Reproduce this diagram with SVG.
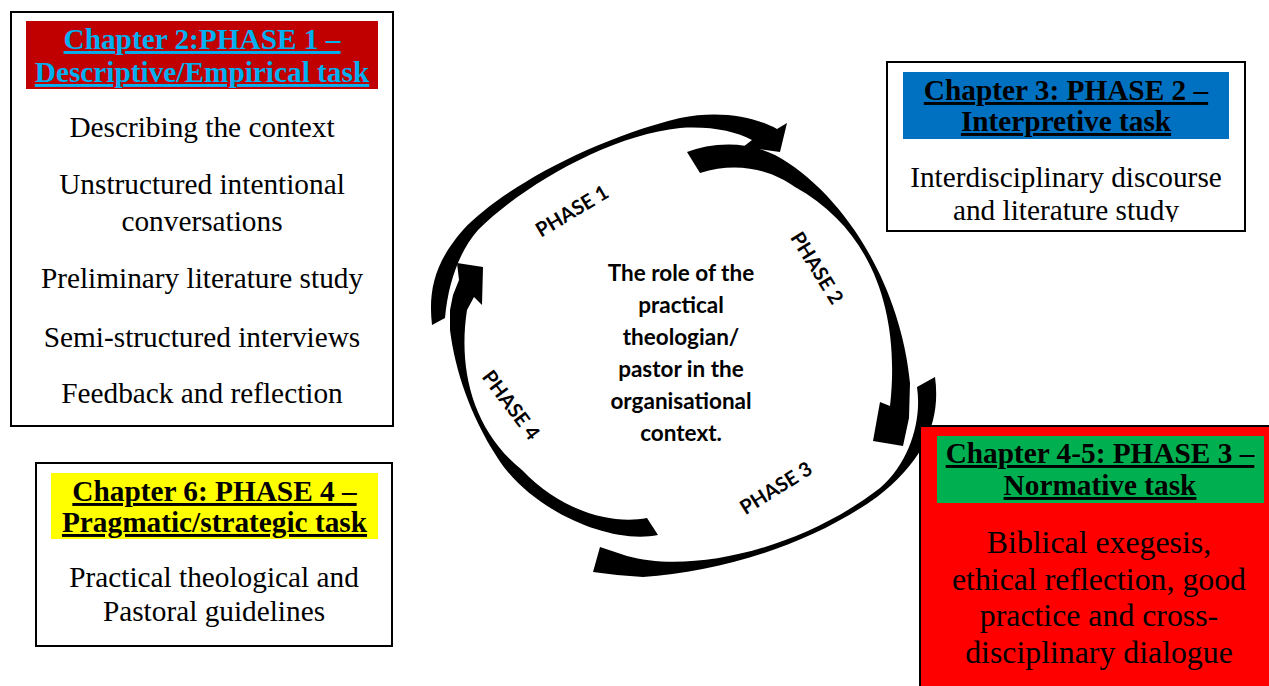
<svg xmlns="http://www.w3.org/2000/svg" width="1269" height="686" viewBox="0 0 1269 686">
<defs>
<style>
.box{fill:#fff;stroke:#000;stroke-width:2}
.hd{font-family:"Liberation Serif","Times New Roman",serif;font-weight:bold;font-size:29.3px;text-anchor:middle;text-decoration:underline}
.bd{font-family:"Liberation Serif","Times New Roman",serif;font-size:29.3px;text-anchor:middle;fill:#000}
.arrow{fill:#000;stroke:none}
.ph{font-family:Lato,"Noto Sans",sans-serif;font-weight:bold;font-size:20px;text-anchor:middle;fill:#000}
.ctr{font-family:Lato,"Noto Sans",sans-serif;font-weight:bold;font-size:22.5px;text-anchor:middle;fill:#000}
</style>
<clipPath id="clip2"><rect x="887" y="62" width="358" height="160"/></clipPath>
</defs>
<rect width="1269" height="686" fill="#fff"/>

<g id="connectors">
<path class="arrow" d="M432,325 C428,290 435,262 463,230 C500,190 590,140 680,118 C720,110 755,117 777,129 L787,123 L780,152 L743,147 L752,140 C735,131 710,126 680,128 C610,135 522,186 478,230 C458,253 448,285 445,318 Z"/>
<path class="arrow" d="M687,152 C710,143 745,140 775,155 C840,190 900,280 910,383 L909,418 L903,446 L873,441 L880,402 L890,406 C900,318 876,232 795,187 C775,172 740,160 700,173 Z"/>
<path class="arrow" d="M917,387 L935,377 C941,420 925,460 877,497 C810,545 720,572 643,577 L617,575 L593,572 L600,547 L627,556 C690,574 800,550 880,488 C910,462 922,420 917,387 Z"/>
<path class="arrow" d="M658,535 C610,545 530,510 497,457 C470,415 455,370 450,330 L450,310 L453,295 L459,280 L457,263 L483,267 L482,305 L474,297 L467,310 C458,368 472,430 522,470 C560,510 610,525 647,518 Z"/>
<text class="ph" transform="translate(572,211) rotate(-31)" y="7">PHASE 1</text>
<text class="ph" transform="translate(817,268) rotate(58)" y="7">PHASE 2</text>
<text class="ph" transform="translate(776,488) rotate(-32)" y="7">PHASE 3</text>
<text class="ph" transform="translate(511,405) rotate(53)" y="7">PHASE 4</text>
</g>

<g id="center">
<text class="ctr" x="681" y="281">The role of the</text>
<text class="ctr" x="681" y="313">practical</text>
<text class="ctr" x="681" y="345">theologian/</text>
<text class="ctr" x="681" y="377">pastor in the</text>
<text class="ctr" x="681" y="409">organisational</text>
<text class="ctr" x="681" y="441">context.</text>
</g>

<g id="phase1">
<rect class="box" x="11" y="12" width="382" height="414"/>
<rect x="26" y="21" width="352" height="68" fill="#C00000"/>
<text class="hd" x="202" y="49" fill="#00B0F0">Chapter 2:PHASE 1 –</text>
<text class="hd" x="202" y="82" fill="#00B0F0">Descriptive/Empirical task</text>
<text class="bd" x="202" y="137">Describing the context</text>
<text class="bd" x="202" y="194">Unstructured intentional</text>
<text class="bd" x="202" y="231">conversations</text>
<text class="bd" x="202" y="288">Preliminary literature study</text>
<text class="bd" x="202" y="347">Semi-structured interviews</text>
<text class="bd" x="202" y="403">Feedback and reflection</text>
</g>

<g id="phase2">
<rect class="box" x="887" y="62" width="358" height="169"/>
<rect x="903" y="72" width="326" height="67" fill="#0070C0"/>
<text class="hd" x="1066" y="100" fill="#000">Chapter 3: PHASE 2 –</text>
<text class="hd" x="1066" y="131" fill="#000">Interpretive task</text>
<g clip-path="url(#clip2)">
<text class="bd" x="1066" y="187">Interdisciplinary discourse</text>
<text class="bd" x="1066" y="220">and literature study</text>
</g>
</g>

<g id="phase3">
<rect x="920" y="426" width="360" height="270" fill="#FF0000" stroke="#000" stroke-width="2"/>
<rect x="937" y="436" width="327" height="67" fill="#00B050"/>
<text class="hd" x="1100" y="463" fill="#000">Chapter 4-5: PHASE 3 –</text>
<text class="hd" x="1100" y="495" fill="#000">Normative task</text>
<text class="bd" x="1099" y="553" style="font-size:31.8px">Biblical exegesis,</text>
<text class="bd" x="1099" y="589.5" style="font-size:31.8px">ethical reflection, good</text>
<text class="bd" x="1099" y="626" style="font-size:31.8px">practice and cross-</text>
<text class="bd" x="1099" y="662.5" style="font-size:31.8px">disciplinary dialogue</text>
</g>

<g id="phase4">
<rect class="box" x="36" y="463" width="356" height="183"/>
<rect x="51" y="473" width="327" height="66" fill="#FFFF00"/>
<text class="hd" x="214.5" y="501" fill="#000">Chapter 6: PHASE 4 –</text>
<text class="hd" x="214.5" y="532" fill="#000">Pragmatic/strategic task</text>
<text class="bd" x="214" y="587">Practical theological and</text>
<text class="bd" x="214" y="621">Pastoral guidelines</text>
</g>
</svg>
